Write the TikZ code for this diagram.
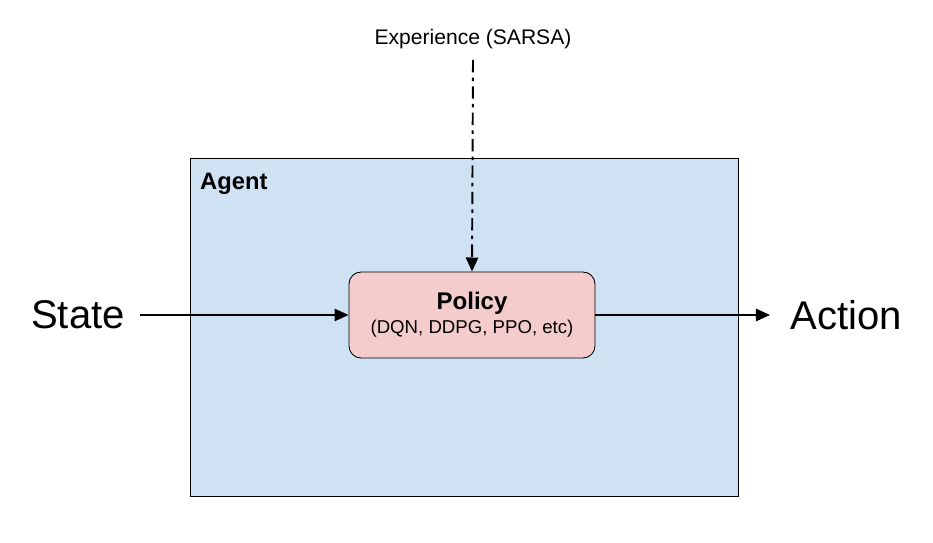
\documentclass[tikz,border=0pt]{standalone}
\usepackage{fontspec}
\setmainfont{Liberation Sans}
\usetikzlibrary{arrows.meta}
\definecolor{agentblue}{HTML}{CFE2F3}
\definecolor{policypink}{HTML}{F4CCCC}
\begin{document}
\begin{tikzpicture}[x=0.02cm, y=0.02cm,
    flow/.style={line width=1.1pt, -{Triangle[length=8pt,width=7pt]}},
    ioText/.style={font=\fontsize{22.8}{26}\selectfont, inner sep=0pt}]
          \useasboundingbox (0,0) rectangle (933,543); % Fixes the page

          \node [draw=black, line width=0.5pt, fill=agentblue, minimum width=10.96cm, minimum height=6.76cm] (agent) at (464,216) {}; % Agent box
          \node [anchor=west, font=\bfseries\fontsize{13.5}{16}\selectfont] (agentLabel) at (194,359) {Agent};

          \node [draw=black, line width=0.5pt, fill=policypink, rounded corners=0.24cm, minimum width=4.92cm, minimum height=1.72cm, align=center] (policy) at (472,228)
              {{\bfseries\fontsize{13.7}{16}\selectfont Policy}\\[1.5pt]{\fontsize{10.6}{13}\selectfont (DQN, DDPG, PPO, etc)}};

          \node [ioText] (state) at (78,228) {State};
          \node [ioText, anchor=west] (action) at (790,228) {Action};
          \node [font=\fontsize{12}{14}\selectfont] (experience) at (473,504) {Experience (SARSA)};

          \coordinate (stateEnd) at (140,228);
          \coordinate (actionEnd) at (770,228);
          \coordinate (expStart) at (473,483);

          \draw [flow] (stateEnd) -- (policy.west);
          \draw [flow] (policy.east) -- (actionEnd);
          \draw [flow, dash pattern=on 7pt off 3pt on 2pt off 3pt] (expStart) -- (policy.north);
        \end{tikzpicture}
\end{document}
